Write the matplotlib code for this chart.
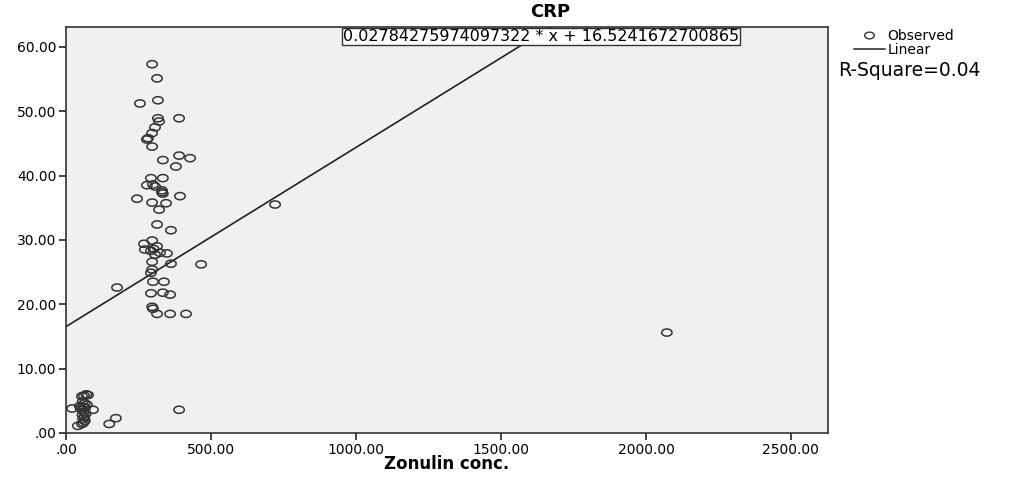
import numpy as np
import matplotlib.pyplot as plt
from matplotlib.path import Path
from matplotlib.lines import Line2D

plt.rcParams['font.family'] = ['DejaVu Sans']

# zonulin concentration vs CRP
zonulin = [297, 314, 255, 317, 390, 317, 321, 307, 297, 279, 283, 297,
           334, 390, 428, 379, 293, 334, 331, 279, 307, 331, 334, 393,
           245, 297, 345, 321, 314, 362, 297, 269, 314, 272, 293, 324,
           307, 348, 297, 362, 466, 176, 297, 293, 300, 338, 293, 334,
           359, 297, 300, 314, 359, 414, 721, 2072, 390, 149, 172,
           21, 41, 48, 55, 62, 70, 76, 58, 64, 60, 66, 55, 62, 68, 57,
           63, 59, 65, 60, 55, 93, 72, 50, 300, 302]
crp = [57.3, 55.1, 51.2, 51.7, 48.9, 48.9, 48.4, 47.5, 46.6, 45.6, 45.8, 44.5,
       42.4, 43.1, 42.7, 41.4, 39.6, 39.6, 37.7, 38.5, 38.3, 37.4, 37.2, 36.8,
       36.4, 35.8, 35.7, 34.7, 32.4, 31.5, 29.9, 29.4, 29.0, 28.5, 28.3, 28.0,
       27.7, 27.9, 26.6, 26.3, 26.2, 22.6, 25.4, 24.9, 23.5, 23.5, 21.7, 21.8,
       21.5, 19.6, 19.3, 18.5, 18.5, 18.5, 35.5, 15.6, 3.6, 1.4, 2.3,
       3.8, 1.1, 4.2, 5.7, 5.8, 6.0, 5.9, 4.9, 4.6, 4.1, 3.9, 3.6, 3.3, 3.0, 2.8,
       2.5, 2.2, 1.9, 1.6, 1.4, 3.6, 4.4, 3.9, 38.6, 28.6]

slope = 0.02784275974097322
intercept = 16.5241672700865
r_square = 0.04

x_ticks = [0, 500, 1000, 1500, 2000, 2500]
y_ticks = [0, 10, 20, 30, 40, 50, 60]

def fmt(v):
    s = '%.2f' % v
    return s[1:] if s.startswith('0') else s

# SPSS draws its circles a bit wider than tall
t = np.linspace(0, 2 * np.pi, 60)
ellipse = Path(np.column_stack([np.cos(t) * 1.45, np.sin(t)]))

fig = plt.figure(figsize=(10.17, 4.8), dpi=100)
ax = fig.add_axes([0.0649, 0.098, 0.7493, 0.846])
ax.set_facecolor('#f0f0f0')

ax.scatter(zonulin, crp, marker=ellipse, s=56, facecolors='none',
           edgecolors='#333333', linewidths=1.1, zorder=3)

xs = np.array([0, 2630])
ax.plot(xs, slope * xs + intercept, color='#222222', lw=1.2, zorder=2)

ax.set_xlim(0, 2628)
ax.set_ylim(0, 63.1)
ax.set_xticks(x_ticks)
ax.set_xticklabels([fmt(v) for v in x_ticks])
ax.set_yticks(y_ticks)
ax.set_yticklabels([fmt(v) for v in y_ticks])
ax.tick_params(direction='out', length=5, width=1.2, color='#222222',
               labelsize=10, pad=2)
for sp in ax.spines.values():
    sp.set_color('#333333')
    sp.set_linewidth(1.2)

ax.set_xlabel('Zonulin conc.', fontsize=12, fontweight='bold', labelpad=-1)
fig.text(0.541, 0.975, 'CRP', fontsize=13, fontweight='bold',
         ha='center', va='center')

ax.text(0.363, 0.995, '%r * x + %r' % (slope, intercept),
        transform=ax.transAxes, ha='left', va='top', fontsize=11.5,
        bbox=dict(boxstyle='square,pad=0.05', fc='white', ec='#333333', lw=1),
        zorder=5)

handles = [Line2D([], [], marker=ellipse, ls='none', ms=7, mfc='none',
                  mec='#333333', mew=1.0),
           Line2D([], [], color='#222222', lw=1.1)]
fig.legend(handles, ['Observed', 'Linear'], loc='upper left',
           bbox_to_anchor=(0.833, 0.955), frameon=False, fontsize=10,
           handlelength=2.2, handletextpad=0.2, labelspacing=0.0,
           borderpad=0)
fig.text(0.824, 0.853, 'R-Square=%.2f' % r_square, fontsize=13.5,
         ha='left', va='center')

fig.savefig('out.png', dpi=100)
